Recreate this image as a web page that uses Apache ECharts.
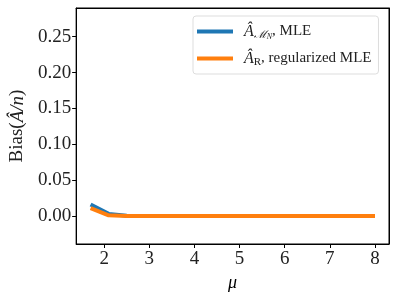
<!DOCTYPE html>
<html><head><meta charset="utf-8">
<script src="https://cdn.jsdelivr.net/npm/echarts@6/dist/echarts.min.js"></script>
<style>html,body{margin:0;padding:0;background:#fff}#c{width:399px;height:299px}</style>
</head><body><div id="c"></div>
<script>
const mu = [1.7, 2.1, 2.5, 3, 3.5, 4, 4.5, 5, 5.5, 6, 6.5, 7, 7.5, 8];
const biasMLE = [0.016, 0.003, 0.0005, 0, 0, 0, 0, 0, 0, 0, 0, 0, 0, 0];
const biasReg = [0.011, 0.001, 0, 0, 0, 0, 0, 0, 0, 0, 0, 0, 0, 0];
const xTicks = [2, 3, 4, 5, 6, 7, 8];
const yTicks = [0, 0.05, 0.10, 0.15, 0.20, 0.25];
const names = ['MLE', 'REG'];

const font = 'Liberation Serif';
const X0 = 1.38, X1 = 8.31, Y0 = -0.039, Y1 = 0.29;
const chart = echarts.init(document.getElementById('c'));
chart.setOption({
  animation: false,
  grid: {left: 75, top: 8, right: 10, bottom: 55, show: true, borderColor: '#000', borderWidth: 1},
  xAxis: [{
    type: 'value', min: X0, max: X1,
    name: 'μ', nameLocation: 'middle', nameGap: 30,
    nameTextStyle: {fontFamily: font, fontStyle: 'italic', fontSize: 18, color: '#000'},
    axisLine: {show: true, onZero: false, lineStyle: {color: '#000'}},
    axisTick: {show: true, length: 4, customValues: xTicks, lineStyle: {color: '#000'}},
    axisLabel: {customValues: xTicks, fontFamily: font, fontSize: 19, color: '#222', margin: 6},
    splitLine: {show: false}
  }, {
    type: 'value', min: X0, max: X1, position: 'top',
    axisLine: {show: true, onZero: false, lineStyle: {color: '#000'}},
    axisTick: {show: false}, axisLabel: {show: false}, splitLine: {show: false}
  }],
  yAxis: [{
    type: 'value', min: Y0, max: Y1,
    name: '{r|Bias(}{i|Â/n}{r|)}', nameLocation: 'middle', nameGap: 40,
    nameTextStyle: {fontFamily: font, fontSize: 19, color: '#222',
      rich: {
        r: {fontFamily: font, fontSize: 19, color: '#222'},
        i: {fontFamily: font, fontSize: 19, fontStyle: 'italic', color: '#222'}
      }},
    axisLine: {show: true, onZero: false, lineStyle: {color: '#000'}},
    axisTick: {show: true, length: 4, customValues: yTicks, lineStyle: {color: '#000'}},
    axisLabel: {customValues: yTicks, fontFamily: font, fontSize: 19, color: '#222', margin: 5,
      formatter: v => v.toFixed(2)},
    splitLine: {show: false}
  }, {
    type: 'value', min: Y0, max: Y1, position: 'right',
    axisLine: {show: true, onZero: false, lineStyle: {color: '#000'}},
    axisTick: {show: false}, axisLabel: {show: false}, splitLine: {show: false}
  }],
  legend: {
    left: 193, top: 16, orient: 'vertical',
    data: names,
    icon: 'rect', itemWidth: 36, itemHeight: 4, itemGap: 8,
    backgroundColor: '#fff', borderColor: '#ddd', borderWidth: 1, borderRadius: 3,
    padding: [6, 7, 6, 4],
    formatter: n => n === 'MLE'
      ? '{a|Â}{s|ℳ}{t|N}{b|, MLE}'
      : '{a|Â}{u|R}{b|, regularized MLE}',
    textStyle: {
      fontFamily: font, fontSize: 15, color: '#222',
      rich: {
        a: {fontFamily: font, fontSize: 16, fontStyle: 'italic', color: '#222', lineHeight: 18, padding: [0, 0, 0, 6]},
        b: {fontFamily: font, fontSize: 15, color: '#222', lineHeight: 18},
        s: {fontFamily: font, fontSize: 11, fontStyle: 'italic', color: '#222', lineHeight: 18, padding: [8, 0, 0, 0]},
        u: {fontFamily: font, fontSize: 11, color: '#222', lineHeight: 18, padding: [8, 0, 0, 0]},
        t: {fontFamily: font, fontSize: 8, fontStyle: 'italic', color: '#222', lineHeight: 18, padding: [11, 0, 0, 0]}
      }
    }
  },
  series: [
    {name: 'MLE', type: 'line', data: mu.map((x, i) => [x, biasMLE[i]]), showSymbol: false,
      lineStyle: {width: 4, color: '#1f77b4'}, itemStyle: {color: '#1f77b4'}},
    {name: 'REG', type: 'line', data: mu.map((x, i) => [x, biasReg[i]]), showSymbol: false,
      lineStyle: {width: 4, color: '#ff7f0e'}, itemStyle: {color: '#ff7f0e'}}
  ]
});
</script></body></html>
